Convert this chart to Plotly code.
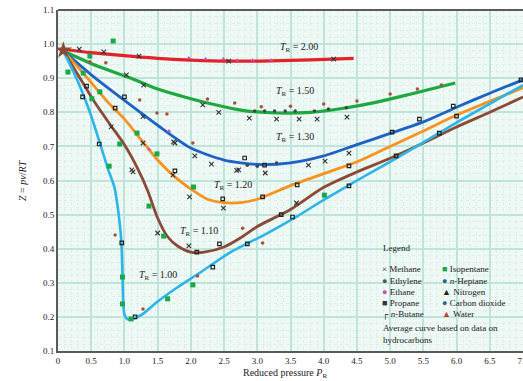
import plotly.graph_objects as go

# ---- average curves (reduced pressure, compressibility) ----
tr200_p = [0.08, 0.5, 1.0, 1.5, 2.0, 2.6, 3.2, 3.8, 4.45]
tr200_z = [0.985, 0.975, 0.966, 0.958, 0.953, 0.950, 0.951, 0.954, 0.958]

tr150_p = [0.08, 0.6, 1.1, 1.5, 1.85, 2.3, 2.8, 3.3, 3.8, 4.3, 4.8, 5.3, 5.98]
tr150_z = [0.98, 0.935, 0.90, 0.868, 0.848, 0.825, 0.805, 0.798, 0.800, 0.812, 0.830, 0.853, 0.886]

tr130_p = [0.08, 0.5, 1.0, 1.5, 2.0, 2.5, 3.0, 3.5, 4.0, 4.5, 5.0, 5.5, 6.0, 6.5, 7.0]
tr130_z = [0.98, 0.91, 0.835, 0.762, 0.695, 0.660, 0.647, 0.652, 0.672, 0.705, 0.738, 0.772, 0.815, 0.856, 0.895]

tr120_p = [0.08, 0.4, 0.75, 1.0, 1.25, 1.5, 1.75, 2.0, 2.25, 2.5, 2.75, 3.0, 3.5, 4.0, 4.5, 5.0, 5.5, 6.0, 6.5, 7.0]
tr120_z = [0.98, 0.91, 0.83, 0.78, 0.72, 0.66, 0.612, 0.575, 0.545, 0.535, 0.535, 0.545, 0.585, 0.62, 0.655, 0.70, 0.745, 0.792, 0.832, 0.872]

tr110_p = [0.08, 0.3, 0.55, 0.8, 1.0, 1.2, 1.35, 1.5, 1.65, 1.8, 2.0, 2.2, 2.5, 2.75, 3.0, 3.5, 4.0, 4.5, 5.0, 5.5, 6.0, 6.5, 7.0]
tr110_z = [0.98, 0.91, 0.83, 0.76, 0.705, 0.635, 0.57, 0.49, 0.435, 0.408, 0.39, 0.39, 0.405, 0.432, 0.465, 0.515, 0.58, 0.625, 0.665, 0.71, 0.757, 0.80, 0.845]

tr100_p = [0.08, 0.3, 0.48, 0.63, 0.75, 0.85, 0.9, 0.95, 0.97, 0.98, 1.0, 1.05, 1.15, 1.3, 1.5, 1.8, 2.1, 2.6, 3.1, 3.6, 4.0, 4.5, 5.0, 5.5, 6.0, 6.5, 7.0]
tr100_z = [0.98, 0.89, 0.80, 0.71, 0.635, 0.58, 0.52, 0.43, 0.33, 0.25, 0.207, 0.193, 0.196, 0.212, 0.245, 0.287, 0.325, 0.39, 0.44, 0.495, 0.543, 0.60, 0.655, 0.712, 0.77, 0.825, 0.88]

# ---- measured data points ----
methane_p = [0.32, 0.69, 1.22, 2.57, 4.15, 1.03, 1.29, 2.18, 2.42, 2.88, 3.29, 3.63, 3.9, 4.35,
             1.28, 2.06, 2.31, 2.72, 3.12, 3.77, 4.02, 4.38, 1.28, 1.76, 0.8, 1.74, 2.69,
             1.13, 1.73, 1.11, 1.98, 2.49, 3.59, 1.5, 1.97]
methane_z = [0.985, 0.977, 0.965, 0.95, 0.956, 0.91, 0.88, 0.822, 0.80, 0.783, 0.78, 0.78, 0.78, 0.786,
             0.787, 0.672, 0.648, 0.631, 0.622, 0.645, 0.657, 0.68, 0.71, 0.71, 0.757, 0.713, 0.63,
             0.625, 0.616, 0.631, 0.552, 0.519, 0.534, 0.446, 0.408]

propane_p = [0.43, 0.37, 0.86, 0.62, 1.0, 1.76, 2.48, 2.09, 0.96, 2.81, 3.11, 3.6, 4.38, 4.38, 5.03, 5.09,
             3.08, 5.44, 5.95, 6.0, 5.74, 6.97, 2.43, 2.85, 3.36, 3.53, 2.33, 1.16]
propane_z = [0.877, 0.845, 0.812, 0.707, 0.845, 0.628, 0.546, 0.39, 0.417, 0.666, 0.645, 0.587, 0.643, 0.584, 0.742, 0.672,
             0.552, 0.78, 0.818, 0.789, 0.739, 0.895, 0.414, 0.414, 0.5, 0.493, 0.346, 0.2]

iso_p = [0.83, 0.48, 0.15, 0.38, 0.63, 0.51, 1.19, 1.49, 0.93, 0.77, 1.37, 1.59, 0.97, 0.97, 1.1, 1.65, 2.03, 2.04, 4.01]
iso_z = [1.009, 0.965, 0.918, 0.915, 0.86, 0.84, 0.739, 0.678, 0.707, 0.642, 0.525, 0.437, 0.317, 0.238, 0.194, 0.253, 0.294, 0.581, 0.557]

water_p = [2.66, 3.06, 3.5, 4.0, 4.5, 5.0, 5.41, 5.77, 2.25, 2.03, 0.72, 0.48, 1.23, 1.64, 1.49, 0.86, 3.08, 2.78, 1.28, 2.1]
water_z = [0.827, 0.816, 0.818, 0.824, 0.833, 0.854, 0.868, 0.88, 0.839, 0.71, 0.945, 0.948, 0.836, 0.795, 0.798, 0.44, 0.417, 0.46, 0.223, 0.32]

ethane_p = [1.97, 2.22, 2.49, 2.7, 2.93, 3.21, 1.67, 1.37]
ethane_z = [0.959, 0.956, 0.956, 0.953, 0.953, 0.953, 0.745, 0.692]

ethylene_p = [2.96, 3.11, 3.26, 3.42, 3.57, 3.86, 4.07, 4.34, 2.85, 3.0, 3.29]
ethylene_z = [0.804, 0.804, 0.804, 0.804, 0.804, 0.804, 0.81, 0.813, 0.645, 0.642, 0.651]

start_p = [0.08]
start_z = [0.982]

x_ticks = [0, 0.5, 1.0, 1.5, 2.0, 2.5, 3.0, 3.5, 4.0, 4.5, 5.0, 5.5, 6.0, 6.5, 7.0]
x_tick_labels = ["0", "0.5", "1.0", "1.5", "2.0", "2.5", "3.0", "3.5", "4.0", "4.5", "5.0", "5.5", "6.0", "6.5", "7.0"]
y_ticks = [0.1, 0.2, 0.3, 0.4, 0.5, 0.6, 0.7, 0.8, 0.9, 1.0, 1.1]
y_tick_labels = ["0.1", "0.2", "0.3", "0.4", "0.5", "0.6", "0.7", "0.8", "0.9", "1.0", "1.1"]

curve_labels = ["2.00", "1.50", "1.30", "1.20", "1.10", "1.00"]
label_p = [3.63, 3.57, 3.57, 2.64, 2.13, 1.5]
label_z = [0.991, 0.862, 0.725, 0.584, 0.449, 0.32]

legend_col1 = ["Methane", "Ethylene", "Ethane", "Propane", "<i>n</i>-Butane"]
legend_col2 = ["Isopentane", "<i>n</i>-Heptane", "Nitrogen", "Carbon dioxide", "Water"]
legend_sym1 = [("×", "#222"), ("●", "#555"), ("●", "#d04fa8"), ("■", "#333"), ("┌", "#222")]
legend_sym2 = [("■", "#1aa84a"), ("●", "#2a5f7a"), ("▲", "#222"), ("●", "#37607a"), ("▲", "#b5432e")]

FONT = "Liberation Serif, Times New Roman, serif"

fig = go.Figure()

curves = [
    (tr200_p, tr200_z, "#e3232c", 3.2),
    (tr150_p, tr150_z, "#1fa83f", 3.2),
    (tr130_p, tr130_z, "#1e62c4", 2.8),
    (tr120_p, tr120_z, "#f7931e", 2.8),
    (tr110_p, tr110_z, "#8a4a36", 2.8),
    (tr100_p, tr100_z, "#2cb5e8", 2.6),
]
for p, z, c, w in curves:
    fig.add_trace(go.Scatter(x=p, y=z, mode="lines", line=dict(color=c, width=w, shape="spline", smoothing=0.7),
                             showlegend=False, hoverinfo="skip"))

fig.add_trace(go.Scatter(x=water_p, y=water_z, mode="markers",
                         marker=dict(symbol="circle", size=3.5, color="#a5513e"), showlegend=False))
fig.add_trace(go.Scatter(x=ethane_p, y=ethane_z, mode="markers",
                         marker=dict(symbol="triangle-up", size=4, color="#cf4fb0"), showlegend=False))
fig.add_trace(go.Scatter(x=ethylene_p, y=ethylene_z, mode="markers",
                         marker=dict(symbol="circle", size=3.5, color="#444"), showlegend=False))
fig.add_trace(go.Scatter(x=methane_p, y=methane_z, mode="markers",
                         marker=dict(symbol="x-thin-open", size=4.5, color="#333", line=dict(width=1.1, color="#333")),
                         showlegend=False))
fig.add_trace(go.Scatter(x=propane_p, y=propane_z, mode="markers",
                         marker=dict(symbol="square-open", size=3.5, color="#222", line=dict(width=1.2, color="#222")),
                         showlegend=False))
fig.add_trace(go.Scatter(x=iso_p, y=iso_z, mode="markers",
                         marker=dict(symbol="square", size=5, color="#1aa84a"), showlegend=False))
fig.add_trace(go.Scatter(x=start_p, y=start_z, mode="markers",
                         marker=dict(symbol="star", size=13, color="#8a4a36"), showlegend=False))

# curve labels
for t, p, z in zip(curve_labels, label_p, label_z):
    fig.add_annotation(x=p, y=z, text="<i>T</i><sub>R</sub> = " + t, showarrow=False,
                       xanchor="center", yanchor="middle",
                       font=dict(family=FONT, size=10, color="#222"))


def px_to_paper(px, py):
    return (px - 58) / 465.0, (351 - py) / 341.0


lx, ly = px_to_paper(381, 248)
fig.add_annotation(x=lx, y=ly, xref="paper", yref="paper", text="Legend", showarrow=False,
                   xanchor="left", yanchor="middle", font=dict(family=FONT, size=9, color="#222"))
rows_y = [269, 281, 292, 303, 314]
for (s, c), name, py in zip(legend_sym1, legend_col1, rows_y):
    x0, y0 = px_to_paper(380, py)
    fig.add_annotation(x=x0, y=y0, xref="paper", yref="paper",
                       text=f"<span style='color:{c}'>{s}</span> {name}", showarrow=False,
                       xanchor="left", yanchor="middle", font=dict(family=FONT, size=9, color="#222"))
for (s, c), name, py in zip(legend_sym2, legend_col2, rows_y):
    x0, y0 = px_to_paper(440, py)
    fig.add_annotation(x=x0, y=y0, xref="paper", yref="paper",
                       text=f"<span style='color:{c}'>{s}</span> {name}", showarrow=False,
                       xanchor="left", yanchor="middle", font=dict(family=FONT, size=9, color="#222"))
for txt, py in [("Average curve based on data on", 328), ("hydrocarbons", 340)]:
    x0, y0 = px_to_paper(381, py)
    fig.add_annotation(x=x0, y=y0, xref="paper", yref="paper", text=txt, showarrow=False,
                       xanchor="left", yanchor="middle", font=dict(family=FONT, size=9, color="#222"))

# axis titles
fig.add_annotation(x=(285 - 58) / 465.0, y=(351 - 373) / 341.0, xref="paper", yref="paper",
                   text="Reduced pressure <i>P</i><sub>R</sub>", showarrow=False,
                   xanchor="center", yanchor="middle",
                   font=dict(family=FONT, size=10, color="#222"))
fig.add_annotation(x=(22 - 58) / 465.0, y=(351 - 180) / 341.0, xref="paper", yref="paper",
                   text="<i>Z</i> = <i>pv</i>/<i>RT</i>", showarrow=False, textangle=-90,
                   xanchor="center", yanchor="middle",
                   font=dict(family=FONT, size=10, color="#222"))

fig.update_layout(
    width=523, height=381,
    margin=dict(l=58, r=0, t=10, b=30, autoexpand=False),
    paper_bgcolor="white", plot_bgcolor="#eef8f5",
    font=dict(family=FONT, size=10, color="#222"),
    showlegend=False,
    xaxis=dict(range=[0, 7.0], tickvals=x_ticks, ticktext=x_tick_labels, automargin=False,
               ticklabeloverflow="allow",
               showline=True, linecolor="#5a5a5a", linewidth=2, mirror=False,
               showgrid=True, gridcolor="#bfe4da", gridwidth=1.5, zeroline=False, ticks="",
               minor=dict(dtick=0.1, showgrid=True, gridcolor="#dcefe9", griddash="dot", gridwidth=1),
               tickfont=dict(family=FONT, size=9)),
    yaxis=dict(range=[0.1, 1.1], tickvals=y_ticks, ticktext=y_tick_labels, automargin=False,
               ticklabeloverflow="allow",
               showline=True, linecolor="#5a5a5a", linewidth=2, mirror=False,
               showgrid=True, gridcolor="#bfe4da", gridwidth=1.5, zeroline=False, ticks="",
               minor=dict(dtick=0.02, showgrid=True, gridcolor="#dcefe9", griddash="dot", gridwidth=1),
               tickfont=dict(family=FONT, size=9)),
)
fig.add_shape(type="line", xref="paper", yref="paper", x0=0, x1=1, y0=1, y1=1,
              line=dict(color="#5a5a5a", width=2))

fig.write_html("out.html", config={"displayModeBar": False},
               post_script="document.body.style.margin='0';document.body.style.overflow='hidden';")
